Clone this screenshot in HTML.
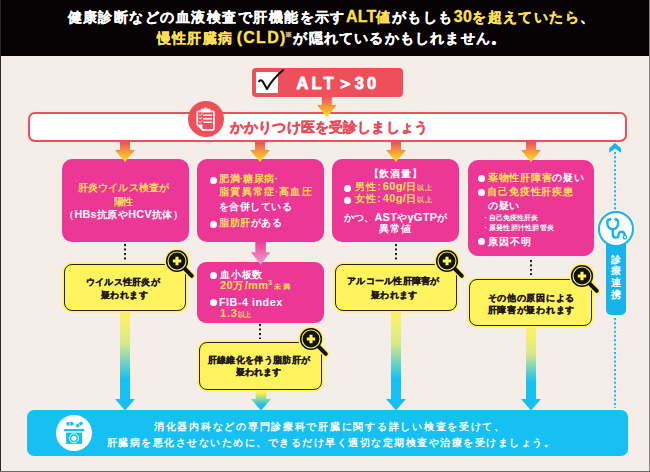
<!DOCTYPE html>
<html lang="ja"><head><meta charset="utf-8">
<style>
*{margin:0;padding:0;box-sizing:border-box}
html,body{width:650px;height:472px;overflow:hidden}
body{position:relative;background:#f5ede8;font-family:"Liberation Sans",sans-serif;font-weight:bold}
.a{position:absolute}
.t{position:absolute;white-space:nowrap;line-height:1}
.mg{position:absolute;background:#ed3796;border-radius:10px}
.yb{position:absolute;background:#fff35e;border:1.6px solid #26221a;border-radius:8px;box-shadow:0 0 0 1.6px #fff35e}
.dt{font-family:'Liberation Sans';margin:0 -0.5px;line-height:0}
.bul{position:absolute;width:7px;height:7px;margin:0.25px 0 0 0.25px;border-radius:50%;background:#fff}
</style></head><body>
<svg width="0" height="0" style="position:absolute"><defs>
<linearGradient id="og" x1="0" y1="0" x2="0" y2="1"><stop offset="0" stop-color="#ef4f5b"/><stop offset="1" stop-color="#ffe81a"/></linearGradient>
<linearGradient id="pg" x1="0" y1="0" x2="0" y2="1"><stop offset="0" stop-color="#ed3796"/><stop offset="1" stop-color="#f5a3cc"/></linearGradient>
<linearGradient id="yg" x1="0" y1="0" x2="0" y2="1"><stop offset="0.08" stop-color="#f8f06a"/><stop offset="0.32" stop-color="#d9e88a"/><stop offset="0.68" stop-color="#17c0f2"/></linearGradient>
<linearGradient id="yg4" x1="0" y1="0" x2="0" y2="1"><stop offset="0.08" stop-color="#f8f06a"/><stop offset="0.32" stop-color="#d9e88a"/><stop offset="0.66" stop-color="#17c0f2"/></linearGradient>
<linearGradient id="yg2" x1="0" y1="0" x2="0" y2="1"><stop offset="0.1" stop-color="#fff04a"/><stop offset="0.72" stop-color="#17c0f2"/></linearGradient>
<g id="mag">
 <line x1="17" y1="17" x2="26.8" y2="26.8" stroke="#fff35e" stroke-width="6.8" stroke-linecap="round"/>
 <circle cx="12" cy="12" r="12.6" fill="#fff35e"/>
 <line x1="17" y1="17" x2="26.8" y2="26.8" stroke="#111" stroke-width="4" stroke-linecap="round"/>
 <circle cx="12" cy="12" r="11.1" fill="#111"/>
 <circle cx="12" cy="12" r="9" fill="none" stroke="#fff35e" stroke-width="1.1"/>
 <path d="M12 7.8 V16.2 M7.8 12 H16.2" stroke="#fff35e" stroke-width="3.1"/>
</g>
</defs></svg>

<div class="a" style="left:0;top:0;width:650px;height:55.8px;background:#070203"></div>

<!-- ALT box -->
<div class="a" style="left:252px;top:68.2px;width:151px;height:28.7px;background:#ef4f5b;border-radius:4px"></div>
<div class="a" style="left:256px;top:72.3px;width:22.3px;height:21px;background:#fff"></div>
<svg class="a" style="left:250px;top:64px" width="40" height="32" viewBox="0 0 40 32"><path d="M9.1 17.3 Q10.9 15.1 12.9 17.7 L17 25.1 Q22.5 14.8 33 6.2" fill="none" stroke="#111" stroke-width="2.1" stroke-linecap="round" stroke-linejoin="round"/></svg>

<!-- big box -->
<div class="a" style="left:27.7px;top:111.8px;width:599.3px;height:30.2px;background:#fff;border:2.5px solid #ef4f5b;border-radius:7px"></div>
<svg class="a" style="left:317.20px;top:97.00px" width="19.6" height="20.5" viewBox="0 0 19.6 20.5"><path d="M4.800000000000001 0 H14.8 V8 H19.6 L9.8 20.5 L0 8 H4.800000000000001 Z" fill="url(#og)"/></svg>
<div class="a" style="left:188px;top:101.2px;width:36px;height:36px;border-radius:50%;background:#ef4f5b"></div>
<svg class="a" style="left:188px;top:101.2px" width="36" height="36" viewBox="0 0 36 36">
 <path d="M10.6 10.4 H24.5 Q25.9 10.4 25.9 11.8 V27.4 Q25.9 28.8 24.5 28.8 H14.6 L9.3 23.6 V11.8 Q9.3 10.4 10.6 10.4 Z" fill="none" stroke="#fff" stroke-width="1.7" stroke-linejoin="round"/>
 <path d="M9.8 23.4 H14.5 V28.4 Z" fill="#fff"/>
 <rect x="12.8" y="7.7" width="9.5" height="3.5" rx="1" fill="#fff"/>
 <circle cx="17.55" cy="7.7" r="1.3" fill="#fff"/>
 <path d="M11.2 13.5 l1.1 1.1 l1.9 -2.1 M11.2 17 l1.1 1.1 l1.9 -2.1 M11.2 20.5 l1.1 1.1 l1.9 -2.1" fill="none" stroke="#fff" stroke-width="0.9"/>
 <path d="M15.2 14.3 H24 M15.2 17.8 H24 M15.2 21.2 H24" stroke="#fff" stroke-width="1.4"/>
</svg>

<!-- magenta boxes -->
<div class="mg" style="left:61.5px;top:159.4px;width:127.2px;height:82.2px"></div>
<div class="mg" style="left:197px;top:159.4px;width:126.8px;height:82.2px"></div>
<div class="mg" style="left:332px;top:159.4px;width:126.8px;height:82.2px"></div>
<div class="mg" style="left:467.7px;top:159.5px;width:126.5px;height:96.9px"></div>
<div class="mg" style="left:197px;top:261.5px;width:126.8px;height:61.2px;border-radius:9px"></div>
<svg class="a" style="left:250.80px;top:241.00px" width="19.2" height="23.7" viewBox="0 0 19.2 23.7"><path d="M4.35 0 H14.85 V11.2 H19.2 L9.6 23.7 L0 11.2 H4.35 Z" fill="url(#pg)"/></svg>

<!-- column arrows -->
<svg class="a" style="left:115.00px;top:141.50px" width="20" height="20" viewBox="0 0 20 20"><path d="M5.0 0 H15.0 V8 H20 L10.0 20 L0 8 H5.0 Z" fill="url(#og)"/></svg>
<svg class="a" style="left:250.00px;top:141.50px" width="20" height="20" viewBox="0 0 20 20"><path d="M5.0 0 H15.0 V8 H20 L10.0 20 L0 8 H5.0 Z" fill="url(#og)"/></svg>
<svg class="a" style="left:385.50px;top:141.50px" width="20" height="20" viewBox="0 0 20 20"><path d="M5.0 0 H15.0 V8 H20 L10.0 20 L0 8 H5.0 Z" fill="url(#og)"/></svg>
<svg class="a" style="left:521.00px;top:141.50px" width="20" height="20" viewBox="0 0 20 20"><path d="M5.0 0 H15.0 V8 H20 L10.0 20 L0 8 H5.0 Z" fill="url(#og)"/></svg>

<!-- bullets -->
<div class="bul" style="left:209.3px;top:176.4px"></div>
<div class="bul" style="left:209.3px;top:220.6px"></div>
<div class="bul" style="left:209.3px;top:271.6px"></div>
<div class="bul" style="left:209.3px;top:298.5px"></div>
<div class="bul" style="left:344px;top:184.6px"></div>
<div class="bul" style="left:344px;top:196.9px"></div>
<div class="bul" style="left:478px;top:175px"></div>
<div class="bul" style="left:478px;top:189px"></div>
<div class="bul" style="left:477.8px;top:238px"></div>

<!-- dotted connectors -->
<div class="a" style="left:123.70px;top:244.00px;width:2.2px;height:15.50px;background:radial-gradient(circle at 1.1px 1.1px,#111 0.85px,transparent 1.35px) 0 0/2.2px 4.5px repeat-y"></div>
<div class="a" style="left:259.10px;top:323.70px;width:2.2px;height:15.60px;background:radial-gradient(circle at 1.1px 1.1px,#111 0.85px,transparent 1.35px) 0 0/2.2px 4.53px repeat-y"></div>
<div class="a" style="left:395.40px;top:244.00px;width:2.2px;height:15.50px;background:radial-gradient(circle at 1.1px 1.1px,#111 0.85px,transparent 1.35px) 0 0/2.2px 4.5px repeat-y"></div>
<div class="a" style="left:529.70px;top:259.90px;width:2.2px;height:15.30px;background:radial-gradient(circle at 1.1px 1.1px,#111 0.85px,transparent 1.35px) 0 0/2.2px 4.43px repeat-y"></div>

<!-- yellow/blue arrows -->
<svg class="a" style="left:115.00px;top:312.00px" width="20" height="98.5" viewBox="0 0 20 98.5"><path d="M5.0 0 H15.0 V87 H20 L10.0 98.5 L0 87 H5.0 Z" fill="url(#yg)"/></svg>
<svg class="a" style="left:386.00px;top:312.00px" width="20" height="98.5" viewBox="0 0 20 98.5"><path d="M5.0 0 H15.0 V87 H20 L10.0 98.5 L0 87 H5.0 Z" fill="url(#yg)"/></svg>
<svg class="a" style="left:521.00px;top:327.00px" width="20" height="83.5" viewBox="0 0 20 83.5"><path d="M5.0 0 H15.0 V72 H20 L10.0 83.5 L0 72 H5.0 Z" fill="url(#yg4)"/></svg>
<svg class="a" style="left:250.50px;top:391.00px" width="20" height="19.5" viewBox="0 0 20 19.5"><path d="M4.75 0 H15.25 V8 H20 L10.0 19.5 L0 8 H4.75 Z" fill="url(#yg2)"/></svg>

<!-- yellow boxes -->
<div class="yb" style="left:64px;top:263.9px;width:122.2px;height:47.3px"></div>
<div class="yb" style="left:199.1px;top:342px;width:122.9px;height:47.6px"></div>
<div class="yb" style="left:334.5px;top:264px;width:122.8px;height:46.5px"></div>
<div class="yb" style="left:468.6px;top:278.8px;width:123.6px;height:47.5px"></div>
<svg class="a" style="left:163.50px;top:247.70px" width="32" height="32" viewBox="-1 -1 32 32"><use href="#mag"/></svg>
<svg class="a" style="left:298.30px;top:326.30px" width="32" height="32" viewBox="-1 -1 32 32"><use href="#mag"/></svg>
<svg class="a" style="left:433.70px;top:247.70px" width="32" height="32" viewBox="-1 -1 32 32"><use href="#mag"/></svg>
<svg class="a" style="left:569.00px;top:263.00px" width="32" height="32" viewBox="-1 -1 32 32"><use href="#mag"/></svg>

<!-- right side -->
<svg class="a" style="left:605px;top:140px" width="22" height="16" viewBox="0 0 22 16"><path d="M10 2.9 L16 8.2 V12.7 L10 8.4 L4.3 12.7 V8.2 Z" fill="#17b4ec"/></svg>
<div class="a" style="left:614.10px;top:152.00px;width:2.2px;height:59.00px;background:radial-gradient(circle at 1.1px 1.1px,#17b4ec 0.85px,transparent 1.35px) 0 0/2.2px 4.25px repeat-y"></div>
<div class="a" style="left:605.7px;top:240px;width:20.8px;height:74.8px;background:#17b4ec;border-radius:0 0 5px 5px"></div>
<div class="a" style="left:597.7px;top:211.3px;width:36px;height:36px;border-radius:50%;background:#fff;border:2px solid #17b4ec"></div>
<svg class="a" style="left:596px;top:208px" width="40" height="40" viewBox="0 0 40 40"><g fill="none" stroke="#17b4ec" stroke-width="2.4" stroke-linecap="round">
 <path d="M13.6 11.4 Q11.4 11.6 11.4 14 V15.75 A5.35 5.35 0 0 0 22.1 15.75 V14 Q22.1 11.6 19.9 11.4"/>
 <path d="M16.75 21.1 V26.3 Q16.75 29.6 19.7 29.6 Q22.7 29.6 22.7 26.5 Q22.7 23.7 25.6 23.7 Q28.6 23.7 28.8 27.6"/>
</g><circle cx="13.8" cy="11.3" r="1.5" fill="#17b4ec"/><circle cx="19.9" cy="11.3" r="1.5" fill="#17b4ec"/><circle cx="28.9" cy="29.3" r="1.7" fill="#fff" stroke="#17b4ec" stroke-width="1.3"/></svg>
<div class="t" style="left:605.7px;width:20.8px;text-align:center;top:253.5px;font-size:10px;line-height:11.8px;white-space:normal;color:#fff">診<br>療<br>連<br>携</div>
<div class="a" style="left:614.10px;top:318.00px;width:2.2px;height:90.00px;background:radial-gradient(circle at 1.1px 1.1px,#17b4ec 0.85px,transparent 1.35px) 0 0/2.2px 4.25px repeat-y"></div>

<!-- bottom box -->
<div class="a" style="left:27.3px;top:410px;width:600.5px;height:45.8px;background:#17c0f2;border-radius:7px"></div>
<div class="a" style="left:56px;top:415.4px;width:36px;height:36px;border-radius:50%;background:#fff"></div>
<svg class="a" style="left:56px;top:415.4px" width="36" height="36" viewBox="0 0 36 36" fill="#17c0f2">
 <rect x="10.1" y="7" width="7.6" height="3.5" rx="1.75"/>
 <path d="M13.7 6.8 V10.7" stroke="#fff" stroke-width="0.7"/>
 <g transform="rotate(-33 23.4 9.6)"><rect x="19.6" y="7.9" width="7.6" height="3.3" rx="1.65"/><path d="M23.3 7.6 V11.5" stroke="#fff" stroke-width="0.7"/></g>
 <rect x="8.1" y="14" width="20" height="2.3"/>
 <rect x="10.1" y="17.6" width="16" height="11.3"/>
 <circle cx="17.95" cy="23.2" r="4.5" fill="none" stroke="#fff" stroke-width="0.9"/>
 <circle cx="17.95" cy="23.2" r="2.5" fill="#fff"/>
</svg>

<div id="h1" class="t" style="left:67.50px;top:11.00px;font-size:13.6px;letter-spacing:1.47px;color:#ffffff;-webkit-text-stroke:0.3px currentColor">健康診断などの血液検査で肝機能を示す<span style="color:#ffe055"><span style="line-height:0;font-size:16px;letter-spacing:0.2px;margin-right:0px">ALT</span>値</span>がもしも<span style="color:#ffe055"><span style="line-height:0;font-size:16px;letter-spacing:0.2px;margin-right:0px">30</span>を超えていたら</span>、</div>
<div id="h2" class="t" style="left:157.00px;top:31.00px;font-size:13.6px;letter-spacing:1.20px;color:#ffffff;-webkit-text-stroke:0.3px currentColor"><span style="color:#ffe055">慢性肝臓<span style="letter-spacing:0.3px">病</span><span style="line-height:0;font-size:16px;letter-spacing:1.3px;margin-left:4.5px">(CLD)</span></span><span style="font-size:7px;vertical-align:6px;color:#c9bd86;margin-left:-1.5px">※</span>が隠れているかもしれません。</div>
<div id="alt" class="t" style="left:296.50px;top:74.50px;font-size:16.5px;letter-spacing:3.10px;color:#ffffff;-webkit-text-stroke:0.8px #fff">ALT<span style="margin:0 -2px 0 0">＞</span>30</div>
<div id="kk" class="t" style="left:230.00px;top:120.95px;font-size:13.6px;letter-spacing:0.15px;color:#e84a5a;-webkit-text-stroke:0.35px #e84a5a">かかりつけ医を受診しましょう</div>
<div id="c1a" class="t" style="left:77.50px;top:182.75px;font-size:9.5px;letter-spacing:0.23px;color:#ffe055;">肝炎ウイルス検査が</div>
<div id="c1b" class="t" style="left:114.40px;top:196.85px;font-size:9.5px;letter-spacing:-1.00px;color:#ffe055;">陽性</div>
<div id="c1c" class="t" style="left:64.00px;top:210.00px;font-size:9.5px;letter-spacing:0.42px;color:#ffffff;">（<span style="line-height:0;font-size:10.8px;letter-spacing:0.3px">HBs</span>抗原や<span style="line-height:0;font-size:10.8px;letter-spacing:0.3px">HCV</span>抗体）</div>
<div id="c2a" class="t" style="left:219.00px;top:174.25px;font-size:9.8px;letter-spacing:0.60px;color:#ffe055;">肥満<span class="dt">·</span>糖尿病<span class="dt">·</span></div>
<div id="c2b" class="t" style="left:219.00px;top:186.75px;font-size:9.8px;letter-spacing:1.29px;color:#ffe055;">脂質異常症<span class="dt">·</span>高血圧</div>
<div id="c2c" class="t" style="left:218.50px;top:201.50px;font-size:9.8px;letter-spacing:0.60px;color:#ffffff;">を合併している</div>
<div id="c2d" class="t" style="left:219.00px;top:218.25px;font-size:9.8px;letter-spacing:0.60px;color:#ffe055;">脂肪肝<span style="color:#ffffff">がある</span></div>
<div id="c2e" class="t" style="left:220.00px;top:270.00px;font-size:9.8px;letter-spacing:0.80px;color:#ffffff;">血小板数</div>
<div id="c2f" class="t" style="left:220.00px;top:281.25px;font-size:9.8px;letter-spacing:1.88px;color:#ffe055;"><span style="line-height:0;font-size:11px;letter-spacing:0.3px">20</span>万<span style="line-height:0;font-size:11px;letter-spacing:0.3px">/mm</span><span style="font-size:6.5px;vertical-align:4px;line-height:0">3</span><span style="font-size:6.5px">未満</span></div>
<div id="c2g" class="t" style="left:219.00px;top:297.50px;font-size:9.8px;letter-spacing:-0.70px;color:#ffffff;"><span style="line-height:0;font-size:10.8px;letter-spacing:0.5px">FIB-4 index</span></div>
<div id="c2h" class="t" style="left:220.00px;top:308.50px;font-size:9.8px;letter-spacing:-0.40px;color:#ffe055;"><span style="line-height:0;font-size:11px;letter-spacing:0.8px">1.3</span><span style="font-size:6.5px">以上</span></div>
<div id="c3a" class="t" style="left:368.50px;top:169.25px;font-size:9.8px;letter-spacing:0.97px;color:#ffffff;">【飲酒量】</div>
<div id="c3b" class="t" style="left:355.00px;top:181.50px;font-size:9.8px;letter-spacing:1.10px;color:#ffe055;">男性<span style="line-height:0;font-size:10.8px;letter-spacing:2px">:</span><span style="line-height:0;font-size:11px;letter-spacing:0.3px">60g/</span>日<span style="font-size:6.5px">以上</span></div>
<div id="c3c" class="t" style="left:355.00px;top:193.50px;font-size:9.8px;letter-spacing:1.10px;color:#ffe055;">女性<span style="line-height:0;font-size:10.8px;letter-spacing:2px">:</span><span style="line-height:0;font-size:11px;letter-spacing:0.3px">40g/</span>日<span style="font-size:6.5px">以上</span></div>
<div id="c3d" class="t" style="left:344.00px;top:213.00px;font-size:9.8px;letter-spacing:0.12px;color:#ffffff;">かつ、<span style="line-height:0;font-size:11px;letter-spacing:0.3px">AST</span>や<span style="line-height:0;font-size:11px;letter-spacing:0.3px">γGTP</span>が</div>
<div id="c3e" class="t" style="left:379.00px;top:223.50px;font-size:9.8px;letter-spacing:1.10px;color:#ffffff;">異常値</div>
<div id="c4a" class="t" style="left:488.00px;top:173.25px;font-size:10.2px;letter-spacing:0.72px;color:#ffe055;">薬物性肝障害<span style="color:#ffffff">の疑い</span></div>
<div id="c4b" class="t" style="left:487.00px;top:186.50px;font-size:10.2px;letter-spacing:0.89px;color:#ffe055;">自己免疫性肝疾患</div>
<div id="c4c" class="t" style="left:488.00px;top:201.00px;font-size:10.2px;letter-spacing:0.60px;color:#ffffff;">の疑い</div>
<div id="c4d" class="t" style="left:481.50px;top:214.75px;font-size:6.8px;letter-spacing:0.13px;color:#ffffff;">・自己免疫性肝炎</div>
<div id="c4e" class="t" style="left:481.50px;top:224.75px;font-size:6.8px;letter-spacing:0.26px;color:#ffffff;">・原発性胆汁性胆管炎</div>
<div id="c4f" class="t" style="left:488.00px;top:236.50px;font-size:10.2px;letter-spacing:0.94px;color:#ffffff;">原因不明</div>
<div id="y1a" class="t" style="left:86.00px;top:278.00px;font-size:9px;letter-spacing:0.23px;color:#1f1a17;-webkit-text-stroke:0.25px #1f1a17">ウイルス性肝炎が</div>
<div id="y1b" class="t" style="left:101.00px;top:290.50px;font-size:9px;letter-spacing:0.42px;color:#1f1a17;-webkit-text-stroke:0.25px #1f1a17">疑われます</div>
<div id="y2a" class="t" style="left:207.50px;top:356.25px;font-size:9px;letter-spacing:0.35px;color:#1f1a17;-webkit-text-stroke:0.25px #1f1a17">肝線維化を伴う脂肪肝が</div>
<div id="y2b" class="t" style="left:236.00px;top:368.00px;font-size:9px;letter-spacing:0.05px;color:#1f1a17;-webkit-text-stroke:0.25px #1f1a17">疑われます</div>
<div id="y3a" class="t" style="left:347.00px;top:277.25px;font-size:9px;letter-spacing:0.27px;color:#1f1a17;-webkit-text-stroke:0.25px #1f1a17">アルコール性肝障害が</div>
<div id="y3b" class="t" style="left:371.00px;top:290.75px;font-size:9px;letter-spacing:0.30px;color:#1f1a17;-webkit-text-stroke:0.25px #1f1a17">疑われます</div>
<div id="y4a" class="t" style="left:487.50px;top:293.50px;font-size:9px;letter-spacing:0.74px;color:#1f1a17;-webkit-text-stroke:0.25px #1f1a17">その他の原因による</div>
<div id="y4b" class="t" style="left:487.50px;top:305.75px;font-size:9px;letter-spacing:0.74px;color:#1f1a17;-webkit-text-stroke:0.25px #1f1a17">肝障害が疑われます</div>
<div id="b1" class="t" style="left:154.00px;top:421.75px;font-size:10px;letter-spacing:1.73px;color:#ffffff;">消化器内科などの専門診療科で肝臓に関する詳しい検査を受けて、</div>
<div id="b2" class="t" style="left:106.50px;top:437.50px;font-size:10px;letter-spacing:1.50px;color:#ffffff;">肝臓病を悪化させないために、できるだけ早く適切な定期検査や治療を受けましょう。</div>

<!-- frame -->
<div class="a" style="left:0;top:0;width:1px;height:472px;background:#2c2828"></div>
<div class="a" style="left:649px;top:0;width:1px;height:472px;background:#8a8583"></div>
<div class="a" style="left:0;top:471px;width:650px;height:1px;background:#6e6866"></div>
</body></html>
